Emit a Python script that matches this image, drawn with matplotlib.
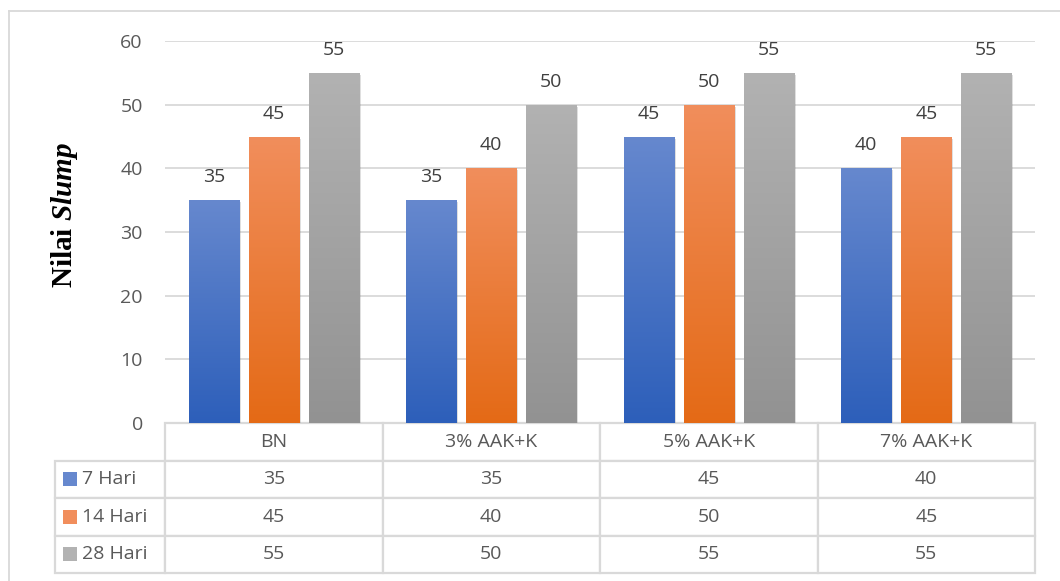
import numpy as np
import matplotlib
import matplotlib.pyplot as plt
import matplotlib.patheffects as pe
from matplotlib.patches import Rectangle
from matplotlib.lines import Line2D
from matplotlib.colors import LinearSegmentedColormap
from matplotlib.table import Table

matplotlib.rcParams['mathtext.fontset'] = 'custom'
matplotlib.rcParams['mathtext.rm'] = 'Liberation Serif:bold'
matplotlib.rcParams['mathtext.bfit'] = 'Liberation Serif:italic:bold'

categories = ["BN", "3% AAK+K", "5% AAK+K", "7% AAK+K"]
series_names = ["7 Hari", "14 Hari", "28 Hari"]
hari_7 = [35, 35, 45, 40]
hari_14 = [45, 40, 50, 45]
hari_28 = [55, 50, 55, 55]
yticks = [0, 10, 20, 30, 40, 50, 60]

series = [hari_7, hari_14, hari_28]
# (top, bottom) shade of each series
shades = [("#6688CE", "#2D5FBA"), ("#F18E5C", "#E46A16"), ("#B2B2B2", "#929292")]
text_grey = "#595959"
line_grey = "#D9D9D9"

W, H = 1060, 581
fig = plt.figure(figsize=(W / 100, H / 100), dpi=100)
ax = fig.add_axes([165 / W, 1 - 423 / H, 870 / W, 382 / H])

x = np.arange(len(categories))
bar_w = 0.23
step = 0.276
shadow = [pe.SimplePatchShadow(offset=(1.5, -1.5), shadow_rgbFace="#808080", alpha=0.25),
          pe.Normal()]

for i, vals in enumerate(series):
    top, bottom = shades[i]
    cmap = LinearSegmentedColormap.from_list("g%d" % i, [bottom, top])
    bars = ax.bar(x + (i - 1) * step, vals, bar_w, color=bottom, zorder=2)
    for b in bars:
        b.set_path_effects(shadow)
        x0, w, h = b.get_x(), b.get_width(), b.get_height()
        grad = np.linspace(0, 1, 256).reshape(-1, 1)
        im = ax.imshow(grad, cmap=cmap, origin="lower", aspect="auto",
                       extent=(x0, x0 + w, 0, h), zorder=3)
        im.set_clip_path(b)
        ax.annotate(str(int(h)), (x0 + w / 2, h), xytext=(0, 10),
                    textcoords="offset points", ha="center", va="bottom",
                    fontsize=14, color="#404040", family="Open Sans")

ax.set_xlim(-0.5, len(categories) - 0.5)
ax.set_ylim(0, 60)
ax.set_yticks(yticks)
ax.set_xticks([])
ax.tick_params(axis="y", length=0, pad=16, labelsize=14, labelcolor=text_grey)
for lab in ax.get_yticklabels():
    lab.set_family("Open Sans")
ax.yaxis.grid(True, color=line_grey, lw=1.3)
ax.set_axisbelow(True)
for s in ax.spines.values():
    s.set_visible(False)

ax.set_ylabel(r"Nilai $\mathbfit{Slump}$", family="Liberation Serif",
              fontweight="bold", fontsize=21, color="black")
ax.yaxis.set_label_coords((80 - 165) / 870, (423 - 215) / 382)

# data table under the bars, series names in the first column
tab_h = 150 / 382
label_w = 110 / 870
row_h = tab_h / 4
ncol = len(categories)
tbl = Table(ax, bbox=[-label_w, -tab_h, 1 + label_w, tab_h])
for j, cat in enumerate(categories):
    tbl.add_cell(0, j + 1, width=1 / ncol, height=row_h, text=cat, loc="center")
for i, name in enumerate(series_names):
    c = tbl.add_cell(i + 1, 0, width=label_w, height=row_h, text=name, loc="left")
    c.PAD = 0.25
    for j, v in enumerate(series[i]):
        tbl.add_cell(i + 1, j + 1, width=1 / ncol, height=row_h, text=str(v), loc="center")
tbl.auto_set_font_size(False)
tbl.set_fontsize(14)
for cell in tbl.get_celld().values():
    cell.set_edgecolor(line_grey)
    cell.set_linewidth(1.6)
    cell.get_text().set_color(text_grey)
    cell.get_text().set_family("Open Sans")
ax.add_table(tbl)

for k in range(len(series_names)):
    cy = -row_h * (k + 1.5)
    ax.add_patch(Rectangle((-102 / 870, cy - 7 / 382), 14 / 870, 14 / 382,
                           transform=ax.transAxes, clip_on=False,
                           facecolor=shades[k][0], edgecolor="none"))

# chart area border (top and left edges)
fig.add_artist(Line2D([9 / W, 9 / W], [0, 1 - 11 / H], color=line_grey, lw=1.3))
fig.add_artist(Line2D([9 / W, 1], [1 - 11 / H, 1 - 11 / H], color=line_grey, lw=1.3))

fig.savefig("out.png", dpi=100)
